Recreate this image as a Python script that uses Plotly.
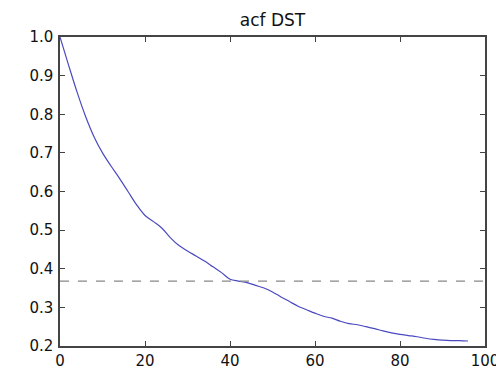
import plotly.graph_objects as go

lags = [0, 2, 4, 6, 8, 10, 12, 14, 16, 18, 20, 22, 24, 26, 28, 30, 32, 34, 36, 38,
        40, 42, 44, 46, 48, 50, 52, 54, 56, 58, 60, 62, 64, 66, 68, 70, 72, 74, 76,
        78, 80, 82, 84, 86, 88, 90, 92, 94, 96]
acf = [1.000, 0.928, 0.858, 0.795, 0.742, 0.700, 0.666, 0.634, 0.600, 0.566,
       0.538, 0.522, 0.505, 0.480, 0.460, 0.446, 0.433, 0.420, 0.405, 0.390,
       0.373, 0.368, 0.364, 0.357, 0.350, 0.340, 0.327, 0.315, 0.303, 0.294,
       0.285, 0.277, 0.272, 0.264, 0.258, 0.255, 0.250, 0.245, 0.239, 0.234,
       0.230, 0.227, 0.224, 0.220, 0.217, 0.215, 0.214, 0.214, 0.213]
threshold = 0.3679
x_ticks = [0, 20, 40, 60, 80, 100]
y_ticks = [0.2, 0.3, 0.4, 0.5, 0.6, 0.7, 0.8, 0.9, 1.0]

fig = go.Figure()
fig.add_trace(go.Scatter(x=lags, y=acf, mode="lines", line=dict(color="#4a4ac0", width=1.2),
                         line_shape="spline", showlegend=False))
fig.add_trace(go.Scatter(x=[0, 100], y=[threshold, threshold], mode="lines",
                         line=dict(color="#888888", width=1.2, dash="dash"), showlegend=False))

axis_common = dict(showline=True, linecolor="#444444", linewidth=1.5, mirror="ticks",
                   ticks="inside", ticklen=5, tickcolor="#444444", showgrid=False,
                   zeroline=False, automargin=False,
                   tickfont=dict(family="DejaVu Sans", size=15, color="#111111"))
fig.update_xaxes(range=[0, 100], tickvals=x_ticks, ticklabelstandoff=0, **axis_common)
fig.update_yaxes(range=[0.2, 1.0], tickvals=y_ticks, tickformat=".1f", ticklabelstandoff=2, **axis_common)

fig.update_layout(
    width=496, height=364,
    margin=dict(l=52, r=19, t=29, b=26),
    paper_bgcolor="white", plot_bgcolor="white",
    title=dict(text="acf DST", x=0.5, xref="paper", y=1, yref="container", yanchor="top",
               pad=dict(t=6), font=dict(family="DejaVu Sans", size=17, color="#111111")),
)
fig.write_html("out.html")
